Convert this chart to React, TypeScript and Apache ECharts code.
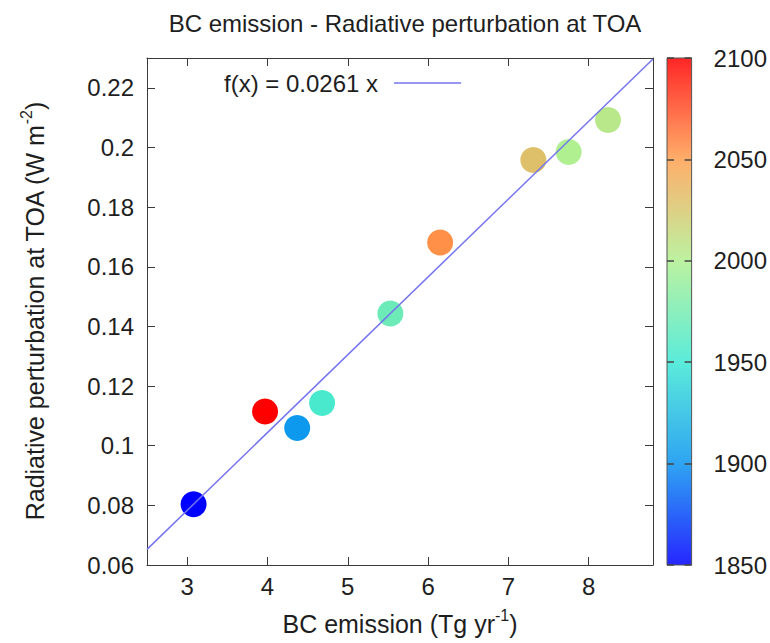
import React, { useEffect, useRef } from "react";
import * as echarts from "echarts";

// BC emission (Tg/yr) per simulated year
const emission = [3.08, 3.97, 4.37, 4.68, 5.53, 6.15, 7.31, 7.75, 8.24];
// Radiative perturbation at TOA (W m-2)
const forcing = [0.0804, 0.1115, 0.1059, 0.1143, 0.1443, 0.1681, 0.1958, 0.1985, 0.2092];
// year of each point (colour scale)
const years = [1850, 2100, 1903, 1955, 1970, 2055, 2030, 2000, 2005];

const fitSlope = 0.0261;
const fitLabel = "f(x) = 0.0261 x";
const xRange = [2.5, 8.8];
const yRange = [0.06, 0.23];
const yearRange = [1850, 2100];
const paletteColors = ["#0000ff", "#0a94f0", "#3ee8d4", "#b0f090", "#ffa050", "#ff0000"];

const FONT = "Liberation Sans";
const TXT = "#1e1e1e";
const FRAME = "#3a3a3a";
const FS = 24;
const LINE_COLOR = "#7474ee";

export default function App() {
  const ref = useRef<HTMLDivElement>(null);
  useEffect(() => {
    document.body.style.margin = "0";
    const chart = echarts.init(ref.current!, null, { renderer: "svg" });
    const stops = paletteColors.map((c, i) => ({ offset: i / (paletteColors.length - 1), color: c }));
    const fitData = xRange.map((x) => [x, fitSlope * x]);
    const pts = emission.map((x, i) => [x, forcing[i], years[i]]);

    const mainAxisCommon = {
      type: "value" as const,
      gridIndex: 0,
      splitLine: { show: false },
      axisLine: { show: true, onZero: false, lineStyle: { color: FRAME, width: 1 } },
      axisTick: { show: true, inside: true, length: 8, lineStyle: { color: FRAME } },
    };
    const nameRich = {
      a: { fontSize: 25, color: TXT, fontFamily: FONT, lineHeight: 34 },
      s: { fontSize: 16, color: TXT, fontFamily: FONT, lineHeight: 34, verticalAlign: "top" },
    };

    chart.setOption({
      animation: false,
      textStyle: { fontFamily: FONT },
      title: {
        text: "BC emission - Radiative perturbation at TOA",
        left: 400,
        top: 6,
        textAlign: "center",
        textStyle: { fontSize: 24, fontWeight: "normal", color: TXT, fontFamily: FONT },
      },
      legend: {
        left: 219,
        top: 66,
        align: "right",
        itemWidth: 67,
        itemHeight: 1.5,
        textStyle: { fontSize: FS, color: TXT, fontFamily: FONT, padding: [0, 11, 0, 0] },
        data: [{ name: fitLabel, icon: "rect", itemStyle: { color: LINE_COLOR } }],
      },
      grid: [
        { left: 147, top: 58, width: 506, height: 507, containLabel: false },
        { left: 667, top: 58, width: 26, height: 507, containLabel: false },
      ],
      xAxis: [
        {
          ...mainAxisCommon,
          min: xRange[0],
          max: xRange[1],
          position: "bottom",
          axisLabel: { fontSize: FS, color: TXT, margin: 9, showMinLabel: false, showMaxLabel: false, fontFamily: FONT },
          name: "{a|BC emission (Tg yr}{s|-1}{a|)}",
          nameLocation: "middle",
          nameGap: 42,
          nameTextStyle: { rich: nameRich },
        },
        {
          ...mainAxisCommon,
          min: xRange[0],
          max: xRange[1],
          position: "top",
          axisLabel: { show: false },
        },
        { type: "value", gridIndex: 1, min: 0, max: 1, show: false },
      ],
      yAxis: [
        {
          ...mainAxisCommon,
          min: yRange[0],
          max: yRange[1],
          interval: 0.02,
          position: "left",
          axisLabel: { fontSize: FS, color: TXT, margin: 13, showMaxLabel: false, fontFamily: FONT },
          name: "{a|Radiative perturbation at TOA (W m}{s|-2}{a|)}",
          nameLocation: "middle",
          nameGap: 95,
          nameTextStyle: { rich: nameRich },
        },
        {
          ...mainAxisCommon,
          min: yRange[0],
          max: yRange[1],
          interval: 0.02,
          position: "right",
          axisLabel: { show: false },
        },
        {
          type: "value",
          gridIndex: 1,
          min: yearRange[0],
          max: yearRange[1],
          interval: 50,
          position: "left",
          z: 5,
          splitLine: { show: false },
          axisLine: { show: false },
          axisTick: { show: true, inside: true, length: 7, lineStyle: { color: "#444", width: 1.5 } },
          axisLabel: { show: false },
        },
        {
          type: "value",
          gridIndex: 1,
          min: yearRange[0],
          max: yearRange[1],
          interval: 50,
          position: "right",
          z: 5,
          splitLine: { show: false },
          axisLine: { show: false },
          axisTick: { show: true, inside: true, length: 7, lineStyle: { color: "#444", width: 1.5 } },
          axisLabel: { fontSize: FS, color: TXT, margin: 22, fontFamily: FONT, formatter: (v: number) => String(v) },
        },
      ],
      visualMap: {
        show: false,
        type: "continuous",
        min: yearRange[0],
        max: yearRange[1],
        dimension: 2,
        seriesIndex: 0,
        inRange: { color: paletteColors },
      },
      series: [
        {
          type: "scatter",
          xAxisIndex: 0,
          yAxisIndex: 0,
          symbolSize: 26,
          itemStyle: { opacity: 1 },
          data: pts,
          z: 3,
        },
        {
          type: "line",
          name: fitLabel,
          xAxisIndex: 0,
          yAxisIndex: 0,
          data: fitData,
          symbol: "none",
          showSymbol: false,
          itemStyle: { color: LINE_COLOR },
          lineStyle: { color: LINE_COLOR, width: 1.5 },
          z: 4,
          silent: true,
        },
        {
          type: "custom",
          xAxisIndex: 2,
          yAxisIndex: 2,
          z: 1,
          data: [[0, yearRange[0]]],
          renderItem: (params: any) => {
            const cs = params.coordSys;
            return {
              type: "group",
              children: [
                {
                  type: "rect",
                  shape: { x: cs.x, y: cs.y, width: cs.width, height: cs.height },
                  style: { fill: new echarts.graphic.LinearGradient(0, 1, 0, 0, stops), opacity: 0.85 },
                },
                {
                  type: "rect",
                  shape: { x: cs.x, y: cs.y, width: cs.width, height: cs.height },
                  style: { fill: "none", stroke: "#555", lineWidth: 1 },
                },
              ],
            };
          },
        },
      ],
    });
    return () => chart.dispose();
  }, []);
  return <div ref={ref} style={{ width: 770, height: 643 }} />;
}
